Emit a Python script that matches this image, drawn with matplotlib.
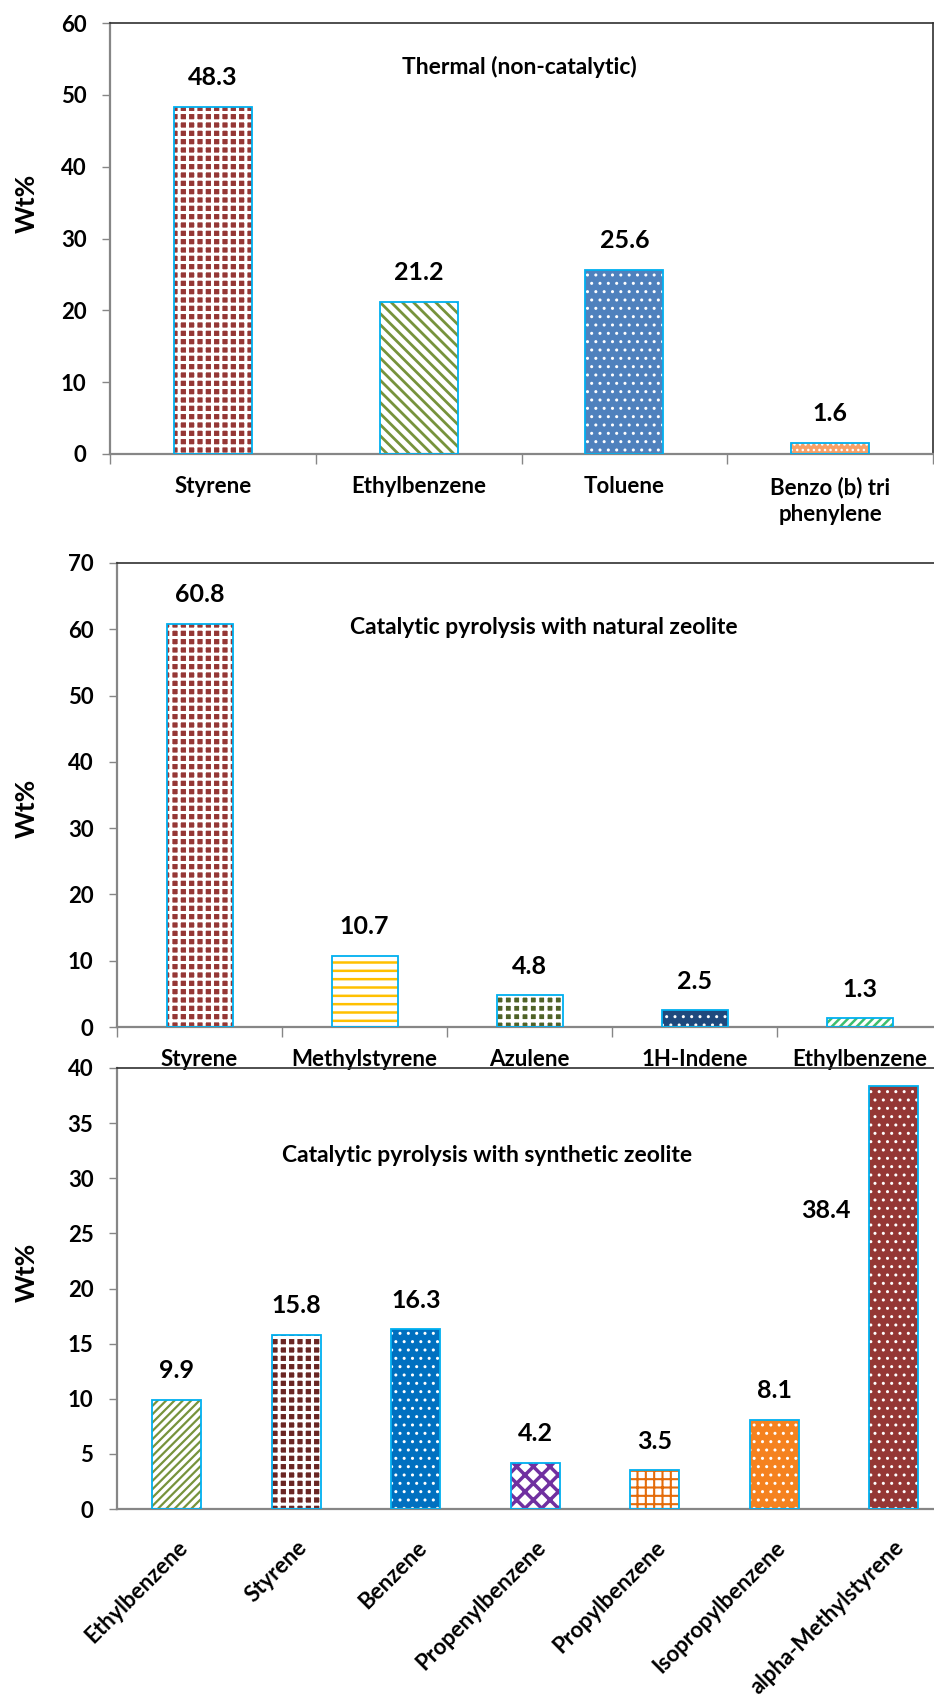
import matplotlib
matplotlib.use('Agg')
import matplotlib.pyplot as plt
import numpy as np

plt.rcParams['font.family'] = ['Lato', 'DejaVu Sans']
plt.rcParams['font.weight'] = 'bold'

# thermal run
thermal_names = ['Styrene', 'Ethylbenzene', 'Toluene', 'Benzo (b) tri\nphenylene']
thermal_wt = [48.3, 21.2, 25.6, 1.6]

# natural zeolite run
natural_names = ['Styrene', 'Methylstyrene', 'Azulene', '1H-Indene', 'Ethylbenzene']
natural_wt = [60.8, 10.7, 4.8, 2.5, 1.3]

# synthetic zeolite run
synthetic_names = ['Ethylbenzene', 'Styrene', 'Benzene', 'Propenylbenzene',
                   'Propylbenzene', 'Isopropylbenzene', 'alpha-Methylstyrene']
synthetic_wt = [9.9, 15.8, 16.3, 4.2, 3.5, 8.1, 38.4]

# (face, hatch colour, hatch, hatch width) per compound
STY = ('#953735', 'white', '++', 2.2)
STY_DARK = ('#6a2623', 'white', '++', 2.2)
GREEN_STRIPE = ('white', '#77933C', '\\\\\\', 2.0)
GREEN_STRIPE2 = ('white', '#77933C', '////', 1.6)
TOLUENE = ('#4F81BD', 'white', '..', 1.0)
BENZO = ('#F7A168', 'white', '...', 1.0)
METHYLSTY = ('white', '#FFC000', '--', 1.8)
AZULENE = ('#4F6228', 'white', '++', 2.5)
INDENE = ('#1F497D', 'white', '..', 1.0)
ETHYL_LIGHT = ('white', '#3DBE6E', '////', 1.8)
BENZENE = ('#0070C0', 'white', '..', 1.0)
PROPENYL = ('white', '#7030A0', 'xx', 2.5)
PROPYL = ('white', '#E46C0A', '++', 1.5)
ISOPROPYL = ('#F5821F', 'white', '..', 1.0)
AMS = ('#953735', 'white', '..', 1.0)

thermal_style = [STY, GREEN_STRIPE, TOLUENE, BENZO]
natural_style = [STY, METHYLSTY, AZULENE, INDENE, ETHYL_LIGHT]
synthetic_style = [GREEN_STRIPE2, STY_DARK, BENZENE, PROPENYL, PROPYL, ISOPROPYL, AMS]

W, H = 934, 1704
fig = plt.figure(figsize=(W / 100, H / 100), dpi=100)


def px_axes(x0, x1, ytop, ybot):
    return fig.add_axes([x0 / W, 1 - ybot / H, (x1 - x0) / W, (ybot - ytop) / H])


def draw_panel(ax, names, vals, styles, ymax, ystep, width, rotate=False, xticks=True):
    x = np.arange(len(names))
    for xi, v, (face, hcol, hatch, hlw) in zip(x, vals, styles):
        with plt.rc_context({'hatch.linewidth': hlw}):
            bars = ax.bar(xi, v, width=width, color=face, edgecolor=hcol, hatch=hatch,
                          linewidth=0, zorder=2)
            for b in bars:
                if hasattr(b, 'set_hatch_linewidth'):
                    b.set_hatch_linewidth(hlw)
        ax.bar(xi, v, width=width, facecolor='none', edgecolor='#00B0F0',
               linewidth=1.3, zorder=3)
    ax.set_xlim(-0.5, len(names) - 0.5)
    ax.set_ylim(0, ymax)
    ax.set_yticks(np.arange(0, ymax + 0.1, ystep))
    ax.tick_params(axis='y', direction='out', length=6, width=1, color='#868686',
                   labelsize=16, pad=11)
    # category boundaries get the tick marks, centres get the labels
    if xticks:
        ax.set_xticks(np.arange(-0.5, len(names) - 0.4, 1.0))
    else:
        ax.set_xticks([])
    ax.tick_params(axis='x', which='major', direction='out', length=7, width=1,
                   color='#868686', labelbottom=False)
    ax.set_xticks(x, minor=True)
    if rotate:
        ax.set_xticklabels(names, minor=True, rotation=45, ha='right',
                           rotation_mode='anchor')
        ax.tick_params(axis='x', which='minor', length=0, labelsize=16, pad=20)
    else:
        ax.set_xticklabels(names, minor=True, ha='center', linespacing=1.35)
        ax.tick_params(axis='x', which='minor', length=0, labelsize=16, pad=16)
    for t in ax.get_yticklabels() + ax.get_xticklabels(minor=True):
        t.set_fontweight('bold')
    for s in ('left', 'bottom'):
        ax.spines[s].set_color('#868686')
        ax.spines[s].set_linewidth(1.6)
    for s in ('top', 'right'):
        ax.spines[s].set_color('#303030')
        ax.spines[s].set_linewidth(1.2)
    ax.set_facecolor('none')
    return x


ax1 = px_axes(110, 933, 23, 454)
x1 = draw_panel(ax1, thermal_names, thermal_wt, thermal_style, 60, 10, 0.38)
for xi, v in zip(x1, thermal_wt):
    ax1.annotate(f'{v:.1f}', (xi, v), xytext=(0, 21), textcoords='offset points',
                 ha='center', va='center', fontsize=18, fontweight='bold')

ax2 = px_axes(117, 117 + 5 * 165, 563, 1027)
x2 = draw_panel(ax2, natural_names, natural_wt, natural_style, 70, 10, 0.4)
for xi, v in zip(x2, natural_wt):
    ax2.annotate(f'{v:.1f}', (xi, v), xytext=(0, 21), textcoords='offset points',
                 ha='center', va='center', fontsize=18, fontweight='bold')

ax3 = px_axes(117, 117 + 7 * 119.5, 1068, 1509)
x3 = draw_panel(ax3, synthetic_names, synthetic_wt, synthetic_style, 40, 5, 0.41,
                rotate=True, xticks=False)
for xi, v in zip(x3, synthetic_wt):
    off = (0, 21)
    if v == max(synthetic_wt):
        off = (-49, -90)
    ax3.annotate(f'{v:.1f}', (xi, v), xytext=off, textcoords='offset points',
                 ha='center', va='center', fontsize=18, fontweight='bold')

# panel headings
fig.text(519 / W, 1 - 67 / H, 'Thermal (non-catalytic)', ha='center', va='center',
         fontsize=16.5, fontweight='bold')
fig.text(544 / W, 1 - 628 / H, 'Catalytic pyrolysis with natural zeolite',
         ha='center', va='center', fontsize=16.5, fontweight='bold')
fig.text(487 / W, 1 - 1155 / H, 'Catalytic pyrolysis with synthetic zeolite',
         ha='center', va='center', fontsize=16.5, fontweight='bold')

for yc in (203, 808, 1272):
    fig.text(27 / W, 1 - yc / H, 'Wt%', rotation=90, ha='center', va='center',
             fontsize=19, fontweight='bold')

fig.savefig('out.png', dpi=100, facecolor='white')
